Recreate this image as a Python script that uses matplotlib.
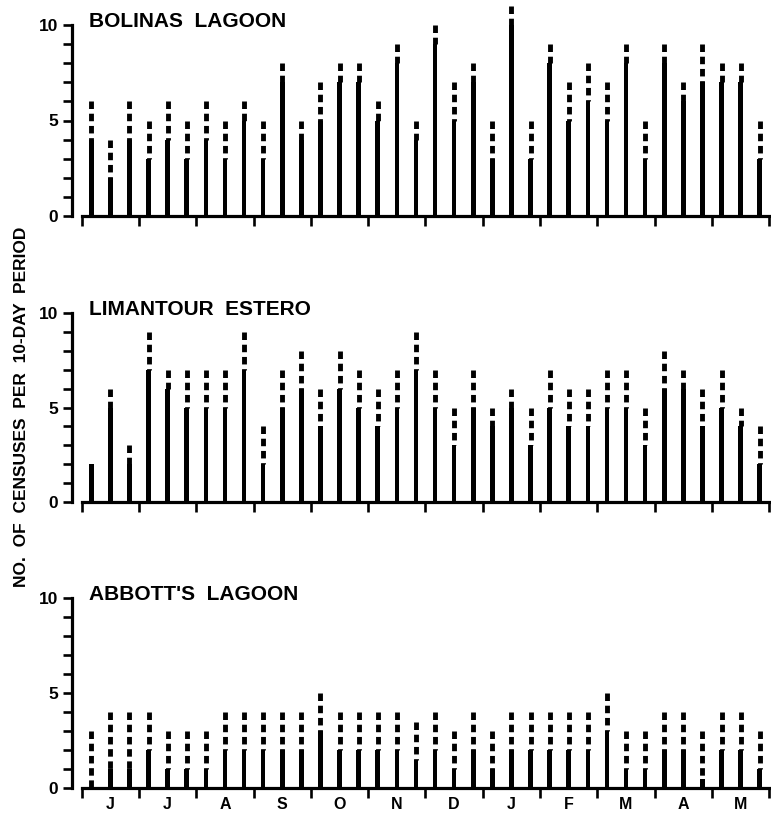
import matplotlib
matplotlib.use("Agg")
import matplotlib.pyplot as plt
import numpy as np

plt.rcParams["font.family"] = ["Liberation Sans", "DejaVu Sans"]
plt.rcParams["font.weight"] = "bold"
plt.rcParams["lines.scale_dashes"] = False

# Censuses per 10-day period, June through May (36 periods).
# "solid" = lower (solid) part of each bar, "total" = top of the dashed extension.
months = ["J", "J", "A", "S", "O", "N", "D", "J", "F", "M", "A", "M"]

bolinas_solid = [4, 2, 4, 3, 4, 3, 4, 3, 5, 3, 7, 4, 5, 7, 7, 5, 8, 4,
                 9, 5, 7, 3, 10, 3, 8, 5, 6, 5, 8, 3, 8, 6, 7, 7, 7, 3]
bolinas_total = [6, 4, 6, 5, 6, 5, 6, 5, 6, 5, 8, 5, 7, 8, 8, 6, 9, 5,
                 10, 7, 8, 5, 11, 5, 9, 7, 8, 7, 9, 5, 9, 7, 9, 8, 8, 5]

limantour_solid = [2, 5, 2, 7, 6, 5, 5, 5, 7, 2, 5, 6, 4, 6, 5, 4, 5, 7,
                   5, 3, 5, 4, 5, 3, 5, 4, 4, 5, 5, 3, 6, 6, 4, 5, 4, 2]
limantour_total = [2, 6, 3, 9, 7, 7, 7, 7, 9, 4, 7, 8, 6, 8, 7, 6, 7, 9,
                   7, 5, 7, 5, 6, 5, 7, 6, 6, 7, 7, 5, 8, 7, 6, 7, 5, 4]

abbotts_solid = [0, 1, 1, 2, 1, 1, 1, 2, 2, 2, 2, 2, 3, 2, 2, 2, 2, 1.5,
                 2, 1, 2, 1, 2, 2, 2, 2, 2, 3, 1, 1, 2, 2, 0.5, 2, 2, 1]
abbotts_total = [3, 4, 4, 4, 3, 3, 3, 4, 4, 4, 4, 4, 5, 4, 4, 4, 4, 3.5,
                 4, 3, 4, 3, 4, 4, 4, 4, 4, 5, 3, 3, 4, 4, 3, 4, 4, 3]

panel_names = ["BOLINAS  LAGOON", "LIMANTOUR  ESTERO", "ABBOTT'S  LAGOON"]
panel_solid = [bolinas_solid, limantour_solid, abbotts_solid]
panel_total = [bolinas_total, limantour_total, abbotts_total]

W, H = 771, 816
fig = plt.figure(figsize=(W / 100, H / 100), dpi=100)

# (pixel row of the zero line, pixels per unit) for each panel
frames = [(216, 19.1), (501.7, 18.84), (788.3, 19.03)]
YMAX = 11.4
left_px, right_px = 81.7, 769.3

n = len(bolinas_solid)
x = np.arange(n) + 0.5

for k, (name, solid, total) in enumerate(zip(panel_names, panel_solid, panel_total)):
    zero_px, unit = frames[k]
    h = YMAX * unit / H
    ax = fig.add_axes([left_px / W, 1 - zero_px / H, (right_px - left_px) / W, h])
    ax.set_xlim(0, n)
    ax.set_ylim(0, YMAX)

    solid = np.asarray(solid, dtype=float)
    total = np.asarray(total, dtype=float)

    ax.bar(x, solid, width=0.24, bottom=0, color="black", linewidth=0, zorder=3)
    has_dash = total > solid
    # dashed extension drawn downward from the top so each bar starts with a dash
    ax.vlines(x[has_dash], total[has_dash], solid[has_dash], colors="black",
              linewidth=3.5, linestyles=[(0, (5.4, 3.4))], capstyle="butt",
              zorder=3)

    for side in ("top", "right"):
        ax.spines[side].set_visible(False)
    ax.spines["left"].set_position(("outward", 7.3))
    ax.spines["left"].set_bounds(0, 10)
    ax.spines["bottom"].set_bounds(0, n)
    ax.spines["left"].set_linewidth(2.3)
    ax.spines["bottom"].set_linewidth(2.3)

    ax.set_yticks(range(11))
    ax.set_yticklabels(["0", "", "", "", "", "5", "", "", "", "", "10"])
    ax.tick_params(axis="y", direction="out", length=6.5, width=1.9,
                   labelsize=12.5, pad=3)

    ax.set_xticks(range(0, n + 1, 3))
    ax.set_xticklabels([])
    ax.tick_params(axis="x", which="major", direction="out", length=7,
                   width=1.9)
    if k == 2:
        ax.set_xticks(np.arange(len(months)) * 3 + 1.5, minor=True)
        ax.set_xticklabels(months, minor=True)
        ax.tick_params(axis="x", which="minor", length=0, pad=6.5, labelsize=11.5)

    ax.text(0.4, 9.9, name, fontsize=15, fontweight="bold",
            ha="left", va="baseline")

fig.text(22 / W, 1 - 407 / H, "NO.  OF  CENSUSES  PER  10-DAY  PERIOD",
         rotation=90, ha="center", va="center", fontsize=12.5, fontweight="bold")

fig.savefig("out.png", dpi=100)
